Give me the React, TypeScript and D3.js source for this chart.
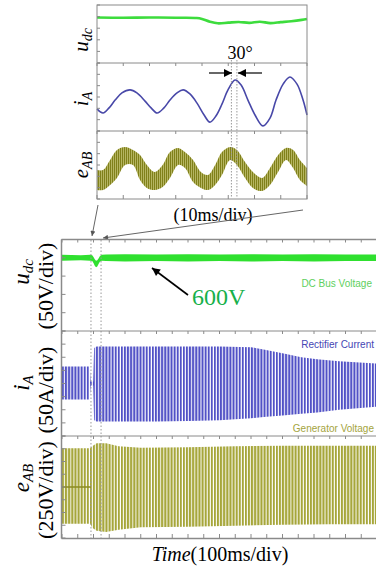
import React from "react";
import * as d3 from "d3";

// ---------- Inset (10 ms/div) data ----------
const insetTime = [0, 80]; // ms
const udcInsetT = [0, 10, 20, 30, 38, 40, 43, 46, 50, 54, 58, 62, 66, 70, 74, 78, 80];
const udcInsetV = [596, 595, 596, 595, 594, 590, 578, 571, 574, 577, 573, 578, 572, 576, 580, 586, 590];

const iaInsetT = [0, 2.3, 4.6, 6.9, 9.5, 12.6, 15.2, 18.3, 20.6, 22.9, 25.5, 27.8, 30.5, 32.8, 35.4, 38.1, 40.8, 43, 45.3, 47.6, 49.9, 52.6, 54.9, 57.5, 60.2, 63.2, 65.9, 68.2, 70.9, 73.5, 76.2, 78.5, 80];
const iaInsetV = [-70, -94, -64, -18, 24, 42, 24, -24, -64, -94, -64, -18, 24, 42, 18, -36, -106, -148, -112, -42, 42, 100, 70, -18, -106, -170, -124, -18, 76, 118, 76, -18, -106];

const eabInsetT = [0, 2.3, 5, 7.6, 10.7, 13.7, 16.4, 19, 22, 25, 27.8, 30.9, 33.5, 36.6, 39.6, 42.3, 45, 47.6, 50.7, 53.3, 56.4, 59.4, 62.9, 65.9, 69, 72, 74.7, 77.3, 80];
const eabInsetUp = [-74, -74, 74, 221, 265, 221, 147, 0, -103, 0, 191, 250, 191, 74, -103, -147, 0, 191, 265, 221, 44, -103, -191, -44, 147, 250, 221, 74, -44];
const eabInsetLo = [-368, -368, -294, -191, 0, 0, -221, -338, -368, -324, -191, 0, -44, -250, -338, -368, -294, -147, 74, 0, -191, -338, -382, -294, -103, 74, -44, -221, -309];

// ---------- Main (100 ms/div) data ----------
const mainTime = [0, 1000]; // ms
const udcT = [0, 60, 90, 96, 100, 104, 108, 112, 116, 120, 126, 140, 200, 300, 400, 500, 600, 700, 800, 900, 1000];
const udcUpper = [608, 607, 608, 607, 602, 596, 592, 593, 598, 604, 608, 609, 610, 609, 610, 609, 610, 609, 610, 609, 609];
const udcLower = [592, 593, 592, 591, 586, 578, 574, 576, 583, 589, 592, 591, 590, 591, 590, 591, 590, 591, 590, 591, 591];

const iaT = [0, 88, 91, 99, 102, 110, 200, 300, 400, 500, 600, 640, 700, 760, 810, 880, 1000];
const iaUpper = [65, 65, 8, 8, 135, 141, 141, 141, 141, 141, 138, 130, 115, 100, 92, 85, 76];
const iaLower = [-61, -61, -8, -8, -140, -145, -145, -145, -143, -140, -132, -128, -122, -115, -110, -100, -88];

const eabT = [0, 90, 96, 110, 140, 180, 250, 400, 550, 700, 850, 1000];
const eabUpper = [380, 380, 400, 430, 430, 400, 385, 390, 400, 405, 405, 405];
const eabLower = [-360, -360, -400, -430, -440, -420, -395, -390, -380, -370, -365, -365];
const eabPreT = [0, 92];
const eabPreV = [0, 0];

const markerTimesMain = [92, 124]; // dotted lines
const markerTimesInset = [51.2, 53.3];

export default function App() {
  const frame = "#8a8a8a";
  const serif = "'Liberation Serif', 'Times New Roman', serif";
  const sans = "'Liberation Sans', Arial, sans-serif";

  const xM = d3.scaleLinear().domain(mainTime).range([62, 377]);
  const yU = d3.scaleLinear().domain([400, 650]).range([331, 239.5]);
  const yI = d3.scaleLinear().domain([-200, 200]).range([436, 331]);
  const yE = d3.scaleLinear().domain([-500, 500]).range([538, 436]);

  const xI = d3.scaleLinear().domain(insetTime).range([97, 307]);
  const yUi = d3.scaleLinear().domain([400, 650]).range([63, 5]);
  const yIi = d3.scaleLinear().domain([-200, 200]).range([131, 63]);
  const yEi = d3.scaleLinear().domain([-500, 500]).range([199, 131]);

  const band = (t: number[], up: number[], lo: number[], x: any, y: any, curve: any = d3.curveLinear) =>
    d3.area<number>().x((_, i) => x(t[i])).y1((_, i) => y(up[i])).y0((_, i) => y(lo[i])).curve(curve)(t) || "";
  const line = (t: number[], v: number[], x: any, y: any, curve: any = d3.curveLinear) =>
    d3.line<number>().x((_, i) => x(t[i])).y((_, i) => y(v[i])).curve(curve)(t) || "";

  const mainXTicks = d3.range(0, 1001, 50);
  const insetXTicks = d3.range(0, 81, 10);

  const leftTicks = (ticks: number[], y: any, x0: number, len: number, key: string) =>
    ticks.map((v) => (
      <line key={key + v} x1={x0} x2={x0 + len} y1={y(v)} y2={y(v)} stroke={frame} strokeWidth={1} />
    ));

  const xTicks = (ticks: number[], x: any, y0: number, len: number, key: string) =>
    ticks.map((t) => (
      <line key={key + t} x1={x(t)} x2={x(t)} y1={y0} y2={y0 + len} stroke={frame} strokeWidth={1} />
    ));

  return (
    <svg width={376} height={571} style={{ position: "absolute", left: 0, top: 0, background: "#fff" }}>
      <defs>
        <pattern id="pb" patternUnits="userSpaceOnUse" width={3.1} height={4}>
          <rect width={2} height={4} fill="#5151c6" />
        </pattern>
        <pattern id="py" patternUnits="userSpaceOnUse" width={3.1} height={4}>
          <rect width={2.1} height={4} fill="#a6a63a" />
        </pattern>
        <pattern id="pyi" patternUnits="userSpaceOnUse" width={2} height={4}>
          <rect width={2} height={4} fill="#c2c272" />
          <rect width={1.2} height={4} fill="#80801a" />
        </pattern>
        <marker id="ahB" viewBox="0 0 10 10" refX={10} refY={5} markerWidth={11} markerHeight={8} markerUnits="userSpaceOnUse" orient="auto">
          <path d="M0,0 L10,5 L0,10 z" fill="#000" />
        </marker>
        <marker id="ahG" viewBox="0 0 10 10" refX={10} refY={5} markerWidth={7} markerHeight={5} markerUnits="userSpaceOnUse" orient="auto">
          <path d="M0,0 L10,5 L0,10 z" fill="#555" />
        </marker>
      </defs>

      {/* ================= INSET ================= */}
      <path d={line(udcInsetT, udcInsetV, xI, yUi, d3.curveCatmullRom)} fill="none" stroke="#3ddc3d" strokeWidth={2.6} />
      <path d={line(iaInsetT, iaInsetV, xI, yIi, d3.curveCatmullRom)} fill="none" stroke="#4848a8" strokeWidth={1.6} />
      <path d={band(eabInsetT, eabInsetUp, eabInsetLo, xI, yEi, d3.curveCatmullRom)} fill="url(#pyi)" />

      {markerTimesInset.map((t) => (
        <line key={"mi" + t} x1={xI(t)} x2={xI(t)} y1={60} y2={198} stroke="#9a9a9a" strokeWidth={1} strokeDasharray="1.5,1.5" />
      ))}

      <rect x={97} y={5} width={210} height={194} fill="none" stroke={frame} strokeWidth={1} />
      <line x1={97} x2={307} y1={63} y2={63} stroke={frame} />
      <line x1={97} x2={307} y1={131} y2={131} stroke={frame} />
      {leftTicks(d3.range(400, 651, 50), yUi, 97, 3, "tu")}
      {leftTicks(d3.range(-200, 201, 400 / 6), yIi, 97, 3, "ti")}
      {leftTicks(d3.range(-500, 501, 1000 / 6), yEi, 97, 3, "te")}
      {xTicks(insetXTicks, xI, 63, 3, "xa")}
      {xTicks(insetXTicks, xI, 131, 3, "xb")}
      {xTicks(insetXTicks, xI, 195, 4, "xc")}

      <text x={240} y={59} textAnchor="middle" fontFamily={serif} fontSize={18} fill="#000">30°</text>
      <line x1={209} x2={232} y1={73} y2={73} stroke="#000" strokeWidth={1.2} markerEnd="url(#ahB)" />
      <line x1={262} x2={238} y1={73} y2={73} stroke="#000" strokeWidth={1.2} markerEnd="url(#ahB)" />

      <text transform="translate(88,40) rotate(-90)" textAnchor="middle" fontFamily={serif} fontSize={21} fontStyle="italic">
        u<tspan fontSize={14} dy={4}>dc</tspan>
      </text>
      <text transform="translate(88,99) rotate(-90)" textAnchor="middle" fontFamily={serif} fontSize={21} fontStyle="italic">
        i<tspan fontSize={14} dy={4}>A</tspan>
      </text>
      <text transform="translate(88,165) rotate(-90)" textAnchor="middle" fontFamily={serif} fontSize={21} fontStyle="italic">
        e<tspan fontSize={14} dy={4}>AB</tspan>
      </text>
      <text x={213} y={221} textAnchor="middle" fontFamily={serif} fontSize={18}>(10ms/div)</text>

      <line x1={98} y1={205} x2={92} y2={236} stroke="#666" strokeWidth={1} markerEnd="url(#ahG)" />
      <line x1={303} y1={210} x2={103} y2={238} stroke="#666" strokeWidth={1} markerEnd="url(#ahG)" />

      {/* ================= MAIN ================= */}
      <path d={band(udcT, udcUpper, udcLower, xM, yU)} fill="#2fe02f" />
      <path d={band(iaT, iaUpper, iaLower, xM, yI)} fill="url(#pb)" />
      <path d={band(eabT, eabUpper, eabLower, xM, yE)} fill="url(#py)" />
      <path d={line(eabPreT, eabPreV, xM, yE)} stroke="#8a8a20" strokeWidth={1.5} fill="none" />

      {markerTimesMain.map((t) => (
        <line key={"mm" + t} x1={xM(t)} x2={xM(t)} y1={240} y2={538} stroke="#9a9a9a" strokeWidth={1} strokeDasharray="1.5,2" />
      ))}

      <line x1={61.5} x2={376} y1={239.5} y2={239.5} stroke={frame} strokeWidth={1.5} />
      <line x1={61.5} x2={61.5} y1={239.5} y2={538.5} stroke={frame} strokeWidth={1.5} />
      <line x1={61.5} x2={376} y1={331} y2={331} stroke={frame} />
      <line x1={61.5} x2={376} y1={436} y2={436} stroke={frame} />
      <line x1={61.5} x2={376} y1={538.5} y2={538.5} stroke={frame} strokeWidth={1.5} />
      {leftTicks(d3.range(400, 651, 50), yU, 61.5, 4, "mu")}
      {leftTicks(d3.range(-200, 201, 50), yI, 61.5, 4, "mi")}
      {leftTicks(d3.range(-500, 501, 125), yE, 61.5, 4, "me")}
      {xTicks(mainXTicks, xM, 239.5, 3, "ma")}
      {xTicks(mainXTicks, xM, 331, 3, "mb")}
      {xTicks(mainXTicks, xM, 436, 3, "mc")}
      {xTicks(mainXTicks, xM, 534, 4, "md")}

      <text x={372} y={287} textAnchor="end" fontFamily={sans} fontSize={10} fill="#5ed05e">DC Bus Voltage</text>
      <text x={374} y={348} textAnchor="end" fontFamily={sans} fontSize={10} fill="#4646b4">Rectifier Current</text>
      <text x={374} y={432} textAnchor="end" fontFamily={sans} fontSize={10} fill="#a4a440">Generator Voltage</text>

      <text x={192} y={305} fontFamily={serif} fontSize={24} fill="#16b04a">600V</text>
      <line x1={188} y1={295} x2={152} y2={268} stroke="#000" strokeWidth={1.6} markerEnd="url(#ahB)" />

      <text transform="translate(29,272) rotate(-90)" textAnchor="middle" fontFamily={serif} fontSize={23} fontStyle="italic">
        u<tspan fontSize={15} dy={4}>dc</tspan>
      </text>
      <text transform="translate(53,286) rotate(-90)" textAnchor="middle" fontFamily={serif} fontSize={22}>(50V/div)</text>
      <text transform="translate(29,383) rotate(-90)" textAnchor="middle" fontFamily={serif} fontSize={23} fontStyle="italic">
        i<tspan fontSize={15} dy={4}>A</tspan>
      </text>
      <text transform="translate(53,390) rotate(-90)" textAnchor="middle" fontFamily={serif} fontSize={22}>(50A/div)</text>
      <text transform="translate(29,478) rotate(-90)" textAnchor="middle" fontFamily={serif} fontSize={23} fontStyle="italic">
        e<tspan fontSize={15} dy={4}>AB</tspan>
      </text>
      <text transform="translate(53,490) rotate(-90)" textAnchor="middle" fontFamily={serif} fontSize={22}>(250V/div)</text>

      <text x={220} y={561} textAnchor="middle" fontFamily={serif} fontSize={20}>
        <tspan fontStyle="italic">Time</tspan>(100ms/div)
      </text>
    </svg>
  );
}
